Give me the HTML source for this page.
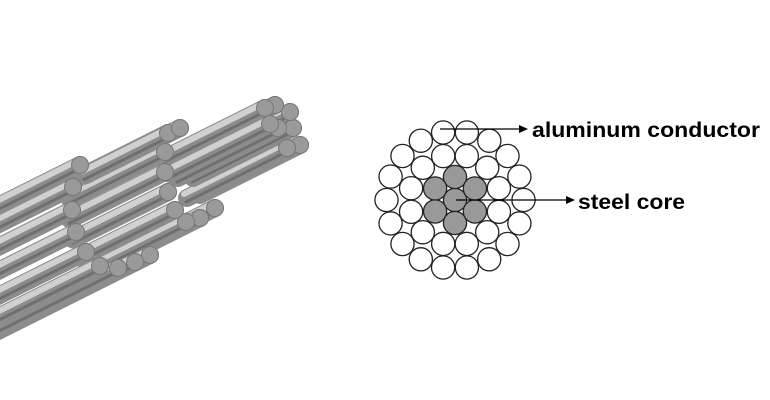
<!DOCTYPE html>
<html><head><meta charset="utf-8"><style>
body{margin:0;background:#fff;width:770px;height:400px;overflow:hidden}
svg{display:block}
text{font-family:"Liberation Sans",Arial,sans-serif;font-weight:bold;font-size:21px;fill:#000}
</style></head><body>
<svg width="770" height="400" viewBox="0 0 770 400">
<g id="cable" stroke-linecap="round" fill="none"></g>
<g id="cs" stroke="#222" stroke-width="1.3"></g>
<line x1="440" y1="129" x2="520" y2="129" stroke="#000" stroke-width="1.3"/>
<polygon points="519,125 528,129 519,133" fill="#000"/>
<line x1="456" y1="200" x2="568" y2="200" stroke="#000" stroke-width="1.3"/>
<polygon points="566,196 575,200 566,204" fill="#000"/>
<text x="532" y="137" textLength="228" lengthAdjust="spacingAndGlyphs">aluminum conductor</text>
<text x="578" y="209" textLength="107" lengthAdjust="spacingAndGlyphs">steel core</text>
</svg>
<script>
var k=0.5;
function layer(ends,len){
  var s='';
  ends.forEach(function(e){var x2=e[0]-len,y2=e[1]+len*k;
    s+='<line x1="'+e[0]+'" y1="'+e[1]+'" x2="'+x2+'" y2="'+y2+'" stroke="#8c8c8c" stroke-width="18"/>';
    s+='<line x1="'+(e[0]-3)+'" y1="'+(e[1]-4)+'" x2="'+(x2-3)+'" y2="'+(y2-4)+'" stroke="#d0d0d0" stroke-width="6"/>';
    s+='<line x1="'+(e[0]-1)+'" y1="'+(e[1]+4)+'" x2="'+(x2-1)+'" y2="'+(y2+4)+'" stroke="#6f6f6f" stroke-width="3"/>';
  });
  ends.forEach(function(e){s+='<circle cx="'+e[0]+'" cy="'+e[1]+'" r="8.5" fill="#9a9a9a" stroke="#777"/>';});
  return s;
}
var h='';
h+=layer([[300,145],[287,148],[293,128],[278,128],[290,112],[275,105],[265,108],[270,124]],100);
h+=layer([[215,208],[200,218],[186,222],[175,210],[168,192],[165,172],[165,152],[168,133],[180,128]],95);
h+=layer([[150,255],[135,262],[118,268],[100,266],[86,252],[76,232],[72,210],[73,187],[80,165]],260);
document.getElementById('cable').innerHTML=h;
var g=document.getElementById('cs'),cx=455,cy=200,r=11.6,s='';
function c(x,y,f){s+='<circle cx="'+x.toFixed(1)+'" cy="'+y.toFixed(1)+'" r="'+r+'" fill="'+f+'"/>';}
c(cx,cy,'#999');
for(var i=0;i<6;i++){var a=Math.PI/2+i*Math.PI/3;c(cx+23*Math.cos(a),cy-23*Math.sin(a),'#999');}
for(var i=0;i<12;i++){var a=Math.PI/12+i*Math.PI/6;c(cx+45.5*Math.cos(a),cy-45.5*Math.sin(a),'#fff');}
for(var i=0;i<18;i++){var a=i*Math.PI/9;c(cx+68.5*Math.cos(a),cy-68.5*Math.sin(a),'#fff');}
g.innerHTML=s;
</script>
</body></html>
